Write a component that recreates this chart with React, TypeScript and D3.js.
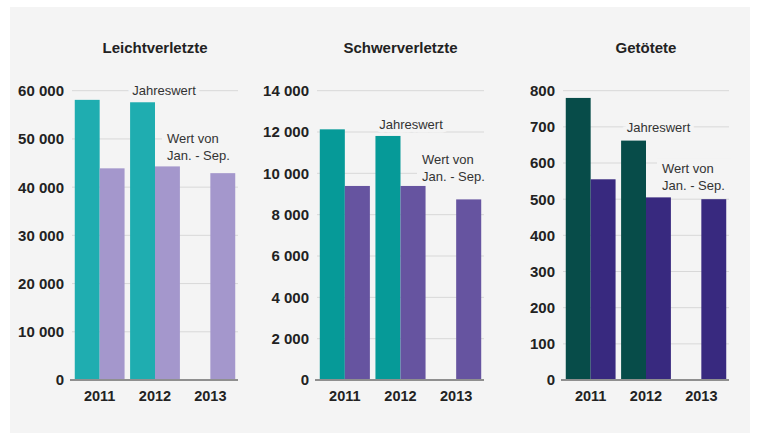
import React from "react";
import * as d3 from "d3";

const years = ["2011", "2012", "2013"];
const seriesKeys = ["jahr", "janSep"];

const leichtJahr = [58100, 57600, null];
const leichtJanSep = [43900, 44300, 42900];
const schwerJahr = [12130, 11810, null];
const schwerJanSep = [9390, 9390, 8740];
const getoetetJahr = [780, 662, null];
const getoetetJanSep = [555, 505, 500];

const leichtTicks = [0, 10000, 20000, 30000, 40000, 50000, 60000];
const schwerTicks = [0, 2000, 4000, 6000, 8000, 10000, 12000, 14000];
const getoetetTicks = [0, 100, 200, 300, 400, 500, 600, 700, 800];

const titles = ["Leichtverletzte", "Schwerverletzte", "Getötete"];
const annJahr = "Jahreswert";
const annWert = ["Wert von", "Jan. - Sep."];

const W = 763;
const H = 444;
const BG = "#f4f4f4";
const FONT = "'Liberation Sans', Arial, Helvetica, sans-serif";

const fmt = (v: number) => d3.format(",")(v).replace(/,/g, " ");

type Panel = {
  title: string;
  jahr: (number | null)[];
  janSep: (number | null)[];
  ticks: number[];
  x0: number;
  x1: number;
  colors: string[];
  jahrX: number;
  jahrV: number;
  wertX: number;
  wertV: number;
};

const panels: Panel[] = [
  {
    title: titles[0], jahr: leichtJahr, janSep: leichtJanSep, ticks: leichtTicks,
    x0: 72, x1: 238, colors: ["#1fadb0", "#a497cc"],
    jahrX: 92, jahrV: 60000, wertX: 95, wertV: 50200,
  },
  {
    title: titles[1], jahr: schwerJahr, janSep: schwerJanSep, ticks: schwerTicks,
    x0: 317, x1: 484, colors: ["#069a98", "#6654a0"],
    jahrX: 94, jahrV: 12390, wertX: 105, wertV: 10700,
  },
  {
    title: titles[2], jahr: getoetetJahr, janSep: getoetetJanSep, ticks: getoetetTicks,
    x0: 563, x1: 729, colors: ["#074c49", "#38297f"],
    jahrX: 95.5, jahrV: 700, wertX: 99, wertV: 586,
  },
];

const Y0 = 380;
const Y1 = 90.7;

function PanelChart({ p }: { p: Panel }) {
  const max = p.ticks[p.ticks.length - 1];
  const y = d3.scaleLinear().domain([0, max]).range([Y0, Y1]);
  const x = d3.scaleBand<string>().domain(years).range([p.x0, p.x1]).paddingInner(0.1).paddingOuter(0.05);
  const xi = d3.scaleBand<string>().domain(seriesKeys).range([0, x.bandwidth()]).padding(0);
  const cx = (p.x0 + p.x1) / 2;
  const wy = y(p.wertV);
  return (
    <g>
      <text x={cx} y={53} textAnchor="middle" fontFamily={FONT} fontWeight="bold" fontSize={15} fill="#222">
        {p.title}
      </text>
      {p.ticks.map((t) => (
        <g key={t}>
          {t > 0 && (
            <line x1={p.x0} x2={p.x1} y1={y(t)} y2={y(t)} stroke="#d8d8d8" strokeWidth={1} />
          )}
          <text x={p.x0 - 8} y={y(t)} dy="0.36em" textAnchor="end" fontFamily={FONT} fontWeight="bold" fontSize={15} fill="#222">
            {fmt(t)}
          </text>
        </g>
      ))}
      <rect x={p.x0 + p.wertX - 5} y={wy - 10} width={p.x1 - (p.x0 + p.wertX - 5) + 2} height={36} fill={BG} />
      {years.map((yr, i) =>
        seriesKeys.map((k, j) => {
          const v = (j === 0 ? p.jahr : p.janSep)[i];
          if (v == null) return null;
          return (
            <rect
              key={yr + k}
              x={(x(yr) as number) + (xi(k) as number)}
              y={y(v)}
              width={xi.bandwidth()}
              height={Y0 - y(v)}
              fill={p.colors[j]}
            />
          );
        })
      )}
      <line x1={p.x0 - 2} x2={p.x1} y1={Y0} y2={Y0} stroke="#8f8f8f" strokeWidth={2} />
      {years.map((yr) => (
        <text key={yr} x={(x(yr) as number) + x.bandwidth() / 2} y={401} textAnchor="middle" fontFamily={FONT} fontWeight="bold" fontSize={14.5} fill="#222">
          {yr}
        </text>
      ))}
      <text
        x={p.x0 + p.jahrX}
        y={y(p.jahrV)}
        dy="0.36em"
        textAnchor="middle"
        fontFamily={FONT}
        fontSize={13}
        fill="#333"
        stroke={BG}
        strokeWidth={7}
        paintOrder="stroke"
      >
        {annJahr}
      </text>
      {annWert.map((s, i) => (
        <text key={s} x={p.x0 + p.wertX} y={wy + i * 17} dy="0.36em" fontFamily={FONT} fontSize={13} fill="#333">
          {s}
        </text>
      ))}
    </g>
  );
}

export default function App() {
  return (
    <svg width={W} height={H} style={{ position: "absolute", left: 0, top: 0, background: "#fff" }}>
      <rect x={10} y={7} width={740} height={426} fill={BG} />
      {panels.map((p) => (
        <PanelChart key={p.title} p={p} />
      ))}
    </svg>
  );
}
